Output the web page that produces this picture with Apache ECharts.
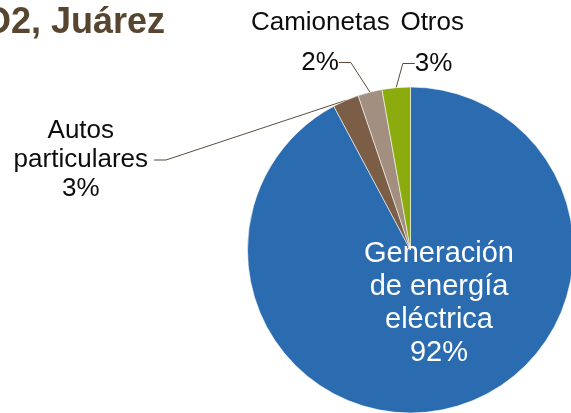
<!DOCTYPE html>
<html><head><meta charset="utf-8">
<script src="https://cdn.jsdelivr.net/npm/echarts@6/dist/echarts.min.js"></script>
<style>html,body{margin:0;padding:0;background:#fff}#c{width:571px;height:413px}</style>
</head><body><div id="c"></div>
<script>
const titleText = 'Emisiones de CO2, Juárez';
const categories = ['Generación de energía eléctrica', 'Autos particulares', 'Camionetas', 'Otros'];
const labelNames = ['Generación\nde energía\neléctrica', 'Autos\nparticulares', 'Camionetas', 'Otros'];
const values = [92.2, 2.6, 2.4, 2.8];
const colors = ['#2B6CB1', '#7B5E45', '#A28F7F', '#8CAB0F'];

const total = values.reduce((a, b) => a + b, 0);
const pct = v => Math.round(v / total * 100) + '%';
const FF = '"Liberation Sans", Arial, sans-serif';

// label box configs (layout only)
const labelCfg = [
  {position: 'inside', color: '#fff', fontSize: 29, lineHeight: 33},
  {padding: [0, 6, 16, 0], backgroundColor: 'rgba(255,255,255,0)', lineHeight: 29},
  {padding: [0, 0, 18, 10], backgroundColor: 'rgba(255,255,255,0)', lineHeight: 30},
  {padding: [0, 24, 18, 0], backgroundColor: 'rgba(255,255,255,0)', lineHeight: 30}
];
const pos1 = [[439, 303], [83.8, 160], [315, 62.5], [445.6, 63.5]];
const pos2 = [null, null, [320.3, 23], [432.2, 23]];

const chart = echarts.init(document.getElementById('c'), null, {renderer: 'canvas'});
chart.setOption({
  animation: false,
  title: {
    text: titleText, right: 406, top: 5, padding: 0,
    textStyle: {fontSize: 36, fontWeight: 'bold', color: '#584530', fontFamily: FF}
  },
  series: [
    {
      type: 'pie', center: [410.5, 250], radius: 163, startAngle: 90, clockwise: true,
      silent: true, z: 2,
      itemStyle: {borderColor: 'rgba(255,255,255,0.7)', borderWidth: 0.8},
      label: {
        show: true, position: 'outside', fontFamily: FF, fontSize: 26, color: '#0d0d0d',
        align: 'center',
        formatter: p => (p.dataIndex < 2 ? labelNames[p.dataIndex] + '\n' : '') + pct(p.value)
      },
      labelLine: {show: true, length: 10, length2: 12, lineStyle: {color: '#5c4b3b', width: 1}},
      labelLayout: p => ({x: pos1[p.dataIndex][0], y: pos1[p.dataIndex][1], align: 'center', verticalAlign: 'middle'}),
      data: categories.map((n, i) => ({
        name: n, value: values[i], itemStyle: {color: colors[i]},
        label: labelCfg[i], labelLine: {show: i > 0}
      }))
    },
    {
      type: 'pie', center: [410.5, 250], radius: 163, startAngle: 90, clockwise: true,
      silent: true, z: 1,
      itemStyle: {color: 'rgba(0,0,0,0)', borderWidth: 0},
      label: {
        show: true, position: 'outside', fontFamily: FF, fontSize: 26, color: '#0d0d0d',
        formatter: p => labelNames[p.dataIndex]
      },
      labelLine: {show: false},
      labelLayout: p => pos2[p.dataIndex] ? {x: pos2[p.dataIndex][0], y: pos2[p.dataIndex][1], align: 'center', verticalAlign: 'middle'} : {x: -500, y: -500},
      data: categories.map((n, i) => ({
        name: n, value: values[i],
        label: {show: i >= 2}
      }))
    }
  ]
});
</script></body></html>
